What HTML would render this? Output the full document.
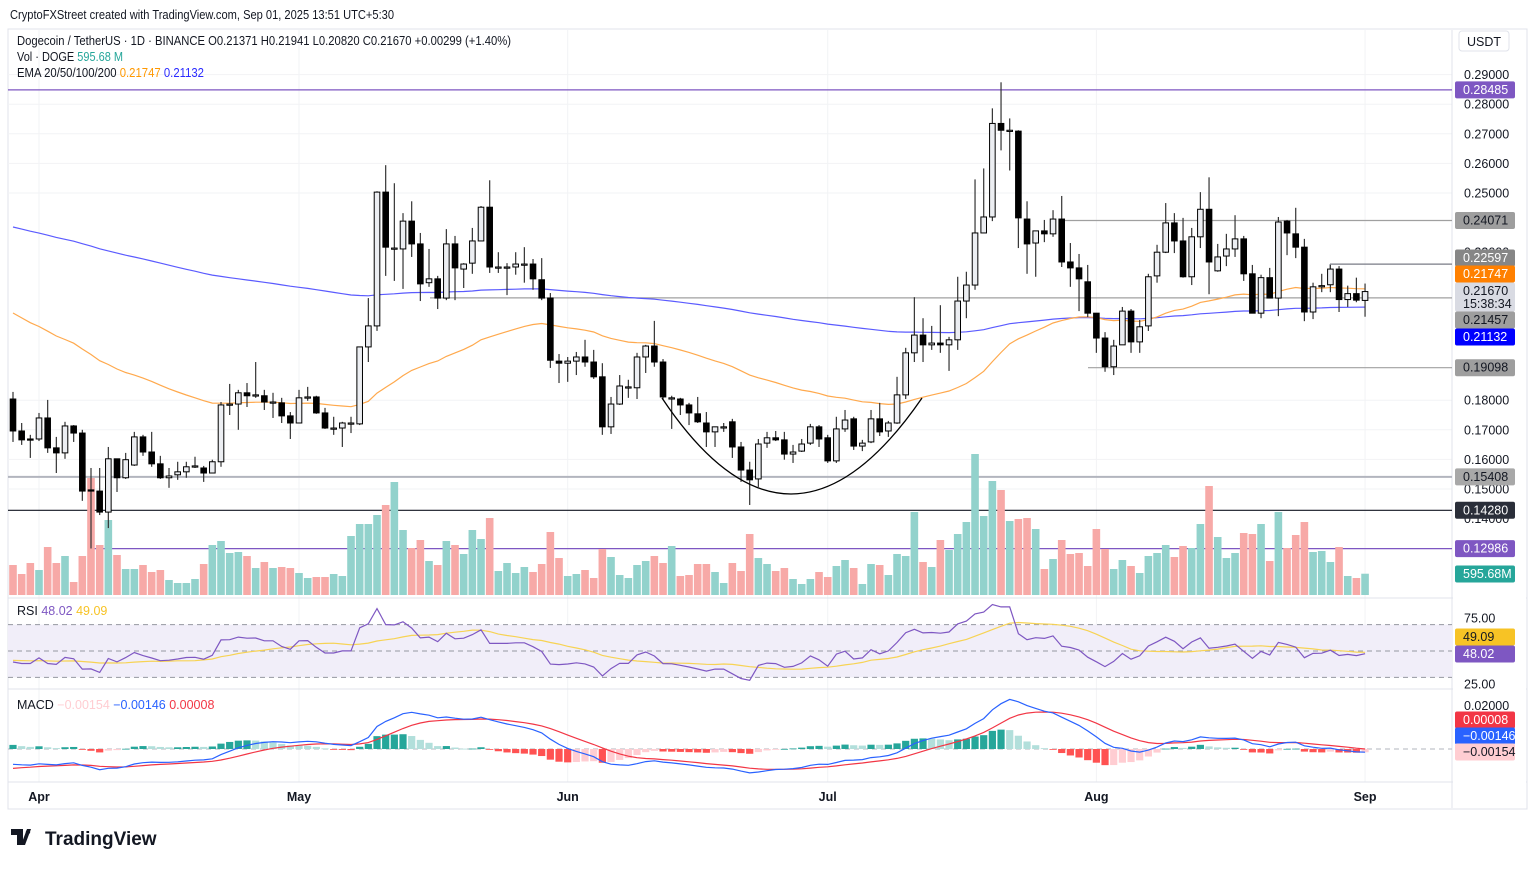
<!DOCTYPE html>
<html><head><meta charset="utf-8">
<style>
html,body{margin:0;padding:0;background:#fff;}
body{width:1536px;height:866px;overflow:hidden;font-family:"Liberation Sans",Arial,sans-serif;}
svg text{font-family:"Liberation Sans",Arial,sans-serif;}
</style></head>
<body>
<svg id="chart" width="1536" height="866" xmlns="http://www.w3.org/2000/svg">
<text x="10" y="19" font-size="13" fill="#131722" textLength="384" lengthAdjust="spacingAndGlyphs">CryptoFXStreet created with TradingView.com, Sep 01, 2025 13:51 UTC+5:30</text>
<rect x="8" y="29" width="1519" height="780" fill="none" stroke="#e0e3eb" stroke-width="1"/>
<g id="grid"></g>
<g id="levels"></g>
<g id="vol"></g>
<g id="emas"></g>
<g id="candles"></g>
<path d="M662,398 Q790,590 922,398" fill="none" stroke="#000" stroke-width="1.3"/>
<g id="rsi"></g>
<g id="macd"></g>
<g id="axis"></g>
<g id="taxis"></g>
<text x="17" y="45" font-size="12.5" fill="#131722" textLength="494" lengthAdjust="spacingAndGlyphs">Dogecoin / TetherUS · 1D · BINANCE  O0.21371  H0.21941  L0.20820  C0.21670  +0.00299 (+1.40%)</text>
<text x="17" y="61" font-size="12.5" fill="#131722" textLength="106" lengthAdjust="spacingAndGlyphs">Vol · DOGE <tspan fill="#26a69a">595.68 M</tspan></text>
<text x="17" y="77" font-size="12.5" fill="#131722" textLength="187" lengthAdjust="spacingAndGlyphs">EMA 20/50/100/200 <tspan fill="#ff9800">0.21747</tspan> <tspan fill="#2a2aff">0.21132</tspan></text>
<text x="17" y="615" font-size="12.5" fill="#131722">RSI <tspan fill="#7e57c2">48.02</tspan> <tspan fill="#f7c325">49.09</tspan></text>
<text x="17" y="709" font-size="12.5" fill="#131722">MACD <tspan fill="#ffcdd2">−0.00154</tspan> <tspan fill="#2962ff">−0.00146</tspan> <tspan fill="#f23645">0.00008</tspan></text>
<rect x="1459" y="31" width="50" height="20" rx="3" fill="#fff" stroke="#e0e3eb"/>
<text x="1467" y="46" font-size="12.5" fill="#131722">USDT</text>
<g>
<path d="M11,829 h12 v16 h-6 v-10 h-6z M27,829 h4 l-6 16 h-4z" fill="#131722"/>
<circle cx="28" cy="832" r="2.2" fill="#131722"/>
<text x="45" y="845" font-size="19" font-weight="bold" fill="#131722">TradingView</text>
</g>
</svg>
<script>
// ---- data ----
const monthLabels=["Apr","May","Jun","Jul","Aug","Sep"];
const monthIdx=[3,33,64,94,125,156];
const open=[.1804,.1696,.1669,.1669,.1740,.1639,.1622,.1713,.1689,.1497,
.1493,.1422,.1602,.1538,.1581,.1676,.1625,.1585,.1538,.1548,
.1558,.1578,.1571,.1554,.1592,.1787,.1787,.1825,.1818,.1815,
.1794,.1791,.1747,.1723,.1808,.1811,.1757,.1706,.1706,.1723,
.1720,.1980,.2051,.2503,.2314,.2311,.2405,.2328,.2197,.2210,
.2145,.2328,.2243,.2263,.2338,.2452,.2250,.2250,.2250,.2260,
.2260,.2207,.2145,.1932,.1925,.1932,.1946,.1929,.1879,.1710,
.1787,.1845,.1842,.1946,.1983,.1929,.1808,.1804,.1784,.1754,
.1723,.1693,.1710,.1727,.1642,.1564,.1534,.1655,.1673,.1666,
.1618,.1628,.1655,.1710,.1673,.1595,.1703,.1737,.1645,.1659,
.1737,.1696,.1723,.1818,.1960,.2020,.1987,.1993,.1987,.2004,
.2135,.2189,.2365,.2419,.2735,.2712,.2709,.2412,.2331,.2372,
.2362,.2412,.2267,.2247,.2200,.2094,.2010,.1913,.1987,.2101,
.1997,.2051,.2220,.2300,.2399,.2338,.2217,.2352,.2445,.2237,
.2287,.2311,.2345,.2227,.2094,.2214,.2145,.2405,.2362,.2317,
.2098,.2187,.2190,.2243,.2140,.2160,.21371];
const high=[.1828,.1723,.1683,.1757,.1801,.1676,.1727,.1716,.1700,.1571,
.1571,.1642,.1602,.1622,.1693,.1683,.1693,.1612,.1571,.1592,
.1592,.1609,.1578,.1599,.1794,.1855,.1835,.1858,.1929,.1835,
.1825,.1808,.1760,.1835,.1845,.1815,.1774,.1744,.1727,.1744,
.1980,.2145,.2506,.2594,.2533,.2432,.2472,.2365,.2311,.2220,
.2378,.2355,.2263,.2382,.2456,.2543,.2300,.2263,.2300,.2317,
.2277,.2280,.2162,.1956,.1946,.1963,.2004,.1970,.1925,.1811,
.1885,.1869,.1960,.1987,.2068,.1939,.1815,.1808,.1791,.1811,
.1760,.1710,.1723,.1737,.1659,.1592,.1669,.1693,.1696,.1693,
.1649,.1669,.1720,.1716,.1683,.1744,.1767,.1744,.1666,.1767,
.1791,.1730,.1879,.1977,.2148,.2077,.2051,.2121,.2014,.2217,
.2234,.2546,.2583,.2786,.2874,.2752,.2712,.2472,.2372,.2409,
.2442,.2490,.2331,.2294,.2257,.2094,.2030,.2004,.2115,.2108,
.2071,.2227,.2325,.2466,.2432,.2416,.2382,.2503,.2553,.2328,
.2362,.2425,.2355,.2257,.2224,.2247,.2419,.2409,.2450,.2345,
.2197,.2227,.2257,.2253,.2187,.2214,.21941];
const low=[.1659,.1649,.1605,.1662,.1622,.1554,.1602,.1659,.1460,.1299,
.1412,.1368,.1490,.1534,.1578,.1612,.1575,.1534,.1504,.1531,
.1538,.1571,.1524,.1554,.1575,.1750,.1700,.1777,.1808,.1767,
.1740,.1723,.1669,.1723,.1798,.1754,.1703,.1683,.1642,.1689,
.1716,.1929,.2034,.2220,.2203,.2176,.2284,.2135,.2183,.2108,
.2138,.2138,.2179,.2227,.2338,.2230,.2230,.2155,.2224,.2197,
.2173,.2138,.1909,.1858,.1862,.1885,.1913,.1872,.1683,.1686,
.1784,.1808,.1804,.1892,.1913,.1801,.1703,.1750,.1716,.1723,
.1642,.1642,.1693,.1605,.1524,.1446,.1507,.1639,.1662,.1599,
.1588,.1625,.1649,.1642,.1588,.1588,.1693,.1632,.1628,.1655,
.1679,.1676,.1720,.1804,.1929,.1929,.1970,.1960,.1899,.1970,
.2077,.2173,.2365,.2405,.2644,.2576,.2314,.2227,.2217,.2334,
.2352,.2250,.2183,.2101,.2081,.1960,.1896,.1885,.1987,.1960,
.1960,.2034,.2197,.2297,.2297,.2214,.2189,.2314,.2158,.2234,
.2253,.2284,.2203,.2094,.2077,.2148,.2084,.2290,.2280,.2067,
.2074,.2165,.2165,.2098,.2115,.2131,.20820];
const close=[.1696,.1666,.1666,.1740,.1639,.1622,.1713,.1689,.1493,.1496,
.1422,.1602,.1538,.1599,.1676,.1625,.1585,.1538,.1544,.1558,
.1575,.1578,.1554,.1592,.1784,.1787,.1825,.1815,.1818,.1794,
.1794,.1747,.1723,.1808,.1811,.1757,.1706,.1706,.1723,.1723,
.1980,.2051,.2503,.2317,.2314,.2405,.2328,.2193,.2210,.2145,
.2328,.2247,.2260,.2338,.2452,.2250,.2250,.2250,.2260,.2260,
.2210,.2145,.1935,.1925,.1932,.1946,.1929,.1879,.1710,.1787,
.1848,.1845,.1946,.1983,.1929,.1811,.1808,.1784,.1757,.1727,
.1693,.1710,.1710,.1642,.1564,.1531,.1652,.1673,.1666,.1618,
.1625,.1652,.1710,.1669,.1595,.1703,.1733,.1645,.1655,.1737,
.1693,.1723,.1818,.1960,.2020,.1987,.1993,.1987,.2004,.2135,
.2189,.2365,.2419,.2735,.2712,.2712,.2416,.2328,.2372,.2362,
.2412,.2267,.2247,.2210,.2094,.2010,.1913,.1983,.2101,.1997,
.2048,.2217,.2300,.2399,.2338,.2217,.2352,.2445,.2267,.2284,
.2311,.2345,.2227,.2094,.2214,.2145,.2402,.2365,.2317,.2098,
.2183,.2187,.2243,.2140,.2160,.2138,.21670];
const volumeM=[840,588,896,700,1344,896,1092,364,1092,3276,
1400,2100,1120,728,728,840,644,700,420,336,
336,448,868,1400,1512,1176,1204,1092,756,924,
756,784,756,616,476,504,504,588,532,1652,
1988,1988,2240,2520,3164,1820,1316,1540,952,840,
1512,1400,1148,1820,1568,2156,672,896,616,784,
644,868,1764,1036,532,588,700,476,1288,1064,
560,476,840,952,1092,896,1372,532,560,868,
868,644,336,896,672,1708,1036,868,672,756,
448,308,448,644,504,812,980,756,308,868,
840,560,1148,1092,2324,924,784,1540,1260,1708,
2044,3948,2212,3192,2940,2072,2128,2156,1848,728,
1008,1540,1148,1176,812,1848,1288,728,980,812,
616,1092,1176,1400,1064,1372,1316,1988,3052,1624,
1036,1176,1736,1708,1988,952,2324,1316,1680,2044,
1204,1232,924,1344,532,476,596];
const levelPrices=[0.28485,0.24071,0.22597,0.21457,0.19098,0.15408,0.14280,0.12986];
const levelStart=[8,1060,1330,430,1088,8,8,91];
const levelColor=["#7e57c2","#a0a0a0","#787b86","#a0a0a0","#a0a0a0","#b2b5be","#131722","#7e57c2"];
const priceTicks=[0.29,0.28,0.27,0.26,0.25,0.18,0.17,0.16,0.15];
const ema50Seed=0.2111, ema200Seed=0.2392;
const ema12Seed=0.1775, ema26Seed=0.1845, signalSeed=-0.0095;
const rsiGainSeed=0.0035, rsiLossSeed=0.0049;

// ---- scales ----
const NS="http://www.w3.org/2000/svg";
const X=i=>13+i*8.667;
const Y=p=>74.6+(0.29-p)*2960;
const YV=v=>595-v/28;
const YR=r=>684-(r-25)*1.32;
const YM=m=>749-m*2150;
function mk(parent,tag,attrs){const e=document.createElementNS(NS,tag);for(const k in attrs)e.setAttribute(k,attrs[k]);document.getElementById(parent).appendChild(e);return e;}
const n=close.length;

// grid
for(const p of priceTicks){const g=mk('grid','line',{x1:8,x2:1452,y1:Y(p),y2:Y(p),stroke:'#f2f3f5'});

}
for(const i of monthIdx){const g=mk('grid','line',{x1:X(i),x2:X(i),y1:30,y2:782,stroke:'#f2f3f5'});

}
mk('grid','line',{x1:1452,x2:1452,y1:30,y2:808,stroke:'#e0e3eb'});
mk('grid','line',{x1:8,x2:1527,y1:598,y2:598,stroke:'#e0e3eb'});
mk('grid','line',{x1:8,x2:1527,y1:689,y2:689,stroke:'#e0e3eb'});
mk('grid','line',{x1:8,x2:1527,y1:782,y2:782,stroke:'#e0e3eb'});

// levels
levelPrices.forEach((p,k)=>{const l=mk('levels','line',{x1:levelStart[k],x2:1452,y1:Y(p),y2:Y(p),stroke:levelColor[k],'stroke-width':k==5?2:1.2});

});
mk('levels','line',{x1:91,x2:91,y1:Y(0.1571),y2:Y(0.12986),stroke:'#131722'});
mk('levels','line',{x1:1330,x2:1330,y1:Y(0.22597),y2:Y(0.2230),stroke:'#787b86'});

// volume
for(let i=0;i<n;i++){const up=close[i]>=open[i];
const r=mk('vol','rect',{x:X(i)-3.8,y:YV(volumeM[i]),width:7.6,height:595-YV(volumeM[i]),fill:up?'#92d2cc':'#f7a9a7'});

}

// EMAs
function emaSeries(seed,len){const a=2/(len+1);let e=seed;const out=[];for(let i=0;i<n;i++){e=e+a*(close[i]-e);out.push(e);}return out;}
const ema50=emaSeries(ema50Seed,50), ema200=emaSeries(ema200Seed,200);
function poly(parent,vals,ys,color,w,name){const pts=vals.map((v,i)=>X(i).toFixed(1)+','+ys(v).toFixed(1)).join(' ');
const p=mk(parent,'polyline',{points:pts,fill:'none',stroke:color,'stroke-width':w});

return p;}
poly('emas',ema200,Y,'#5b5bff',1.2,'ema-200-line');
poly('emas',ema50,Y,'#ffa94d',1.2,'ema-50-line');

// candles
for(let i=0;i<n;i++){const up=close[i]>=open[i];const x=X(i);
const w=mk('candles','line',{x1:x,x2:x,y1:Y(high[i]),y2:Y(low[i]),stroke:'#333','stroke-width':1.2});


const top=Y(Math.max(open[i],close[i])),bot=Y(Math.min(open[i],close[i]));
const b=mk('candles','rect',{x:x-2.8,y:top,width:5.6,height:Math.max(1.2,bot-top),fill:up?'#eceef2':'#000',stroke:'#000','stroke-width':1});

}

// RSI
const rsi=[];let ag=rsiGainSeed,al=rsiLossSeed,prev=close[0];
rsi.push(100-100/(1+ag/al));
for(let i=1;i<n;i++){const d=close[i]-prev;prev=close[i];ag=(ag*13+Math.max(d,0))/14;al=(al*13+Math.max(-d,0))/14;rsi.push(100-100/(1+ag/al));}
const rsiMa=rsi.map((v,i)=>{const s=Math.max(0,i-13);const sl=rsi.slice(s,i+1);const pad=14-sl.length;return (sl.reduce((a,b)=>a+b,0)+pad*43)/14;});
mk('rsi','rect',{x:8,y:YR(70),width:1444,height:YR(30)-YR(70),fill:'#f1eef9'});
for(const lv of [70,50,30]){mk('rsi','line',{x1:8,x2:1452,y1:YR(lv),y2:YR(lv),stroke:'#9598a1','stroke-dasharray':'5,4'});}
poly('rsi',rsiMa,YR,'#f7d354',1.2,'rsi-ma-line');
poly('rsi',rsi,YR,'#7e57c2',1.2,'rsi-line');

// MACD
let e12=ema12Seed,e26=ema26Seed,sg=signalSeed;const macd=[],sig=[],hist=[];
for(let i=0;i<n;i++){e12+=2/13*(close[i]-e12);e26+=2/27*(close[i]-e26);const m=e12-e26;sg+=0.2*(m-sg);macd.push(m);sig.push(sg);hist.push(m-sg);}
mk('macd','line',{x1:8,x2:1452,y1:YM(0),y2:YM(0),stroke:'#b2b5be','stroke-dasharray':'5,4'});
for(let i=0;i<n;i++){const h=hist[i],pv=i?hist[i-1]:h;let c;
if(h>=0)c=h>=pv?'#26a69a':'#b2dfdb';else c=h<pv?'#ff5252':'#ffcdd2';
const y0=YM(0),y1=YM(h);
const r=mk('macd','rect',{x:X(i)-3.6,y:Math.min(y0,y1),width:7.2,height:Math.max(0.8,Math.abs(y1-y0)),fill:c});

}
poly('macd',sig,YM,'#f23645',1.2,'macd-signal-line');
poly('macd',macd,YM,'#2962ff',1.2,'macd-line');

// price axis labels
mk('axis','rect',{x:1453,y:30,width:73,height:778,fill:'#fff'});
const tickLbl=[0.29,0.28,0.27,0.26,0.25,0.23,0.18,0.17,0.16,0.15,0.14];
for(const p of tickLbl){const t=mk('axis','text',{x:1464,y:Y(p)+4.5,'font-size':12.5,fill:'#131722'});t.textContent=p.toFixed(5);

}
function tag(y,txt,bg,fg,name,h){const hh=h||17;
const r=mk('axis','rect',{x:1455,y:y-hh/2,width:60,height:hh,rx:2,fill:bg});


const lines=txt.split('|');lines.forEach((s,k)=>{const t=mk('axis','text',{x:1463,y:y-hh/2+12.5+k*13,'font-size':12.5,fill:fg});t.textContent=s;});}
tag(Y(0.28485),'0.28485','#7e57c2','#fff','tag-028485');
tag(Y(0.24071),'0.24071','#9e9e9e','#131722','tag-024071');
tag(258,'0.22597','#868686','#fff','tag-022597');
tag(274,'0.21747','#ff8000','#fff','tag-ema50');
tag(297,'0.21670|15:38:34','#d9dbe3','#131722','tag-last-price',29);
tag(320,'0.21457','#9e9e9e','#131722','tag-021457');
tag(337,'0.21132','#0000ff','#fff','tag-ema200');
tag(Y(0.19098),'0.19098','#9e9e9e','#131722','tag-019098');
tag(Y(0.15408),'0.15408','#a8a8a8','#131722','tag-015408');
tag(Y(0.14280),'0.14280','#2a2e39','#fff','tag-014280');
tag(Y(0.12986),'0.12986','#7e57c2','#fff','tag-012986');
tag(574,'595.68M','#26a69a','#fff','tag-volume');
[[75,'75.00'],[25,'25.00']].forEach(([v,s])=>{const t=mk('axis','text',{x:1464,y:YR(v)+4.5,'font-size':12.5,fill:'#131722'});t.textContent=s;});
tag(637,'49.09','#f7c325','#131722','tag-rsi-ma');
tag(654,'48.02','#7e57c2','#fff','tag-rsi');
{const t=mk('axis','text',{x:1464,y:710,'font-size':12.5,fill:'#131722'});t.textContent='0.02000';}
tag(720,'0.00008','#f23645','#fff','tag-macd-signal');
tag(736,'−0.00146','#2962ff','#fff','tag-macd');
tag(752,'−0.00154','#ffcdd2','#131722','tag-macd-hist');

// time axis
monthLabels.forEach((m,k)=>{const t=mk('taxis','text',{x:X(monthIdx[k]),y:801,'font-size':12.5,'font-weight':'bold','text-anchor':'middle',fill:'#131722'});t.textContent=m;

});
</script>
</body></html>
